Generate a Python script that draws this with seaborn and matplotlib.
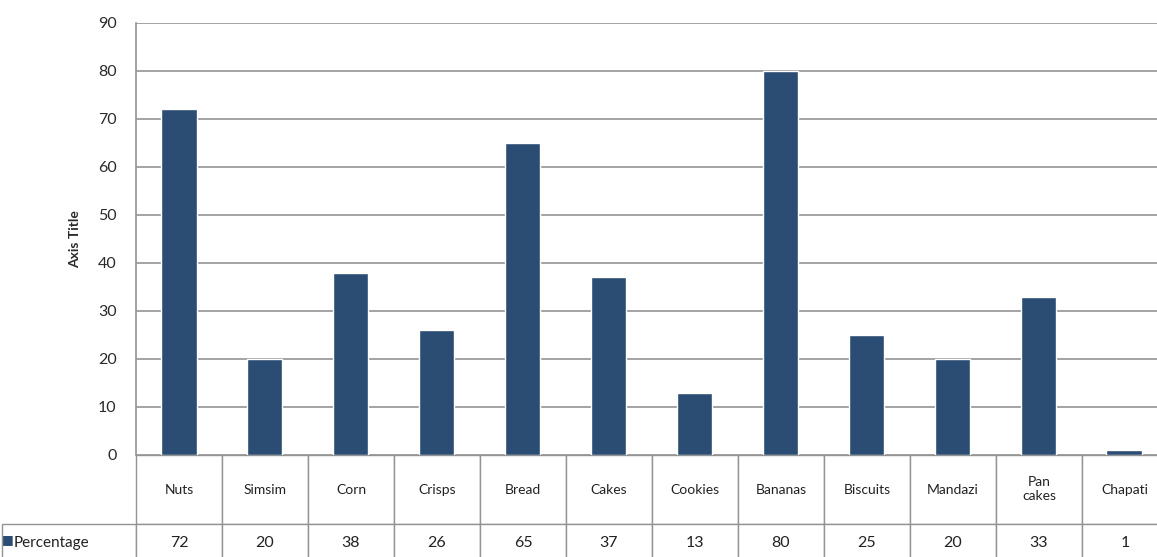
import matplotlib
matplotlib.use('Agg')
import matplotlib.pyplot as plt
import seaborn as sns
import pandas as pd

# data
categories = ['Nuts', 'Simsim', 'Corn', 'Crisps', 'Bread', 'Cakes', 'Cookies',
              'Bananas', 'Biscuits', 'Mandazi', 'Pan cakes', 'Chapati']
percentage = [72, 20, 38, 26, 65, 37, 13, 80, 25, 20, 33, 1]
y_ticks = [0, 10, 20, 30, 40, 50, 60, 70, 80, 90]
series_name = 'Percentage'

bar_color = '#2B4C73'
grid_color = '#939393'

sns.set_style('white')
plt.rcParams['font.family'] = ['Lato', 'DejaVu Sans']

df = pd.DataFrame({'food': categories, 'pct': percentage})

W, H = 1157, 557
fig = plt.figure(figsize=(W / 100, H / 100), dpi=100)
# plot area in pixels: left 136, right 1167 (runs past the edge), top 23, bottom 455
AX_W, AX_H = 1167 - 136, 455 - 23
ax = fig.add_axes([136 / W, (H - 455) / H, AX_W / W, AX_H / H])

sns.barplot(data=df, x='food', y='pct', color=bar_color, width=0.41,
            saturation=1, ax=ax, zorder=3)

ax.set_ylim(0, 90)
ax.set_yticks(y_ticks)
ax.set_yticklabels([str(t) for t in y_ticks], fontsize=11.5, color='#2A2A2A')
ax.yaxis.grid(True, color=grid_color, linewidth=1.2)
ax.set_axisbelow(True)
ax.tick_params(axis='y', length=0, pad=14)
ax.set_xticks([])
ax.set_xlabel('')
ax.set_ylabel('Axis Title', fontsize=10, fontweight='bold', color='#2A2A2A', labelpad=12)
for side in ['top', 'right', 'bottom']:
    ax.spines[side].set_visible(False)
ax.spines['left'].set_color(grid_color)
ax.spines['left'].set_linewidth(1.2)

# data table below the plot: first column holds the series name
LABEL_W, COL_W = 134, 86
HEAD_H, ROW_H = 69, 38
header = [''] + [c.replace(' ', '\n') for c in categories]
values = [series_name] + [str(v) for v in percentage]
tbl = ax.table(cellText=[header, values], cellLoc='center',
               bbox=[-LABEL_W / AX_W, -(HEAD_H + ROW_H) / AX_H,
                     (LABEL_W + COL_W * len(categories)) / AX_W, (HEAD_H + ROW_H) / AX_H])
tbl.auto_set_font_size(False)
for (r, c), cell in tbl.get_celld().items():
    cell.set_edgecolor(grid_color)
    cell.set_linewidth(1.0)
    cell.set_width(LABEL_W if c == 0 else COL_W)
    cell.set_height(HEAD_H if r == 0 else ROW_H)
    cell.get_text().set_color('#222222')
    cell.get_text().set_fontsize(10 if r == 0 else 11.5)
    cell.set_clip_on(False)
tbl[0, 0].visible_edges = ''
tbl[1, 0].PAD = 0.09
tbl[1, 0]._loc = 'left'
tbl[1, 0].get_text().set_horizontalalignment('left')
tbl[1, 0].get_text().set_fontsize(11)

ax.text(-(136 - 8) / AX_W, -(540 - 455) / AX_H, '■', color=bar_color,
        fontsize=9, va='center', ha='center', transform=ax.transAxes,
        family=['DejaVu Sans'])

fig.savefig('out.png', dpi=100)
